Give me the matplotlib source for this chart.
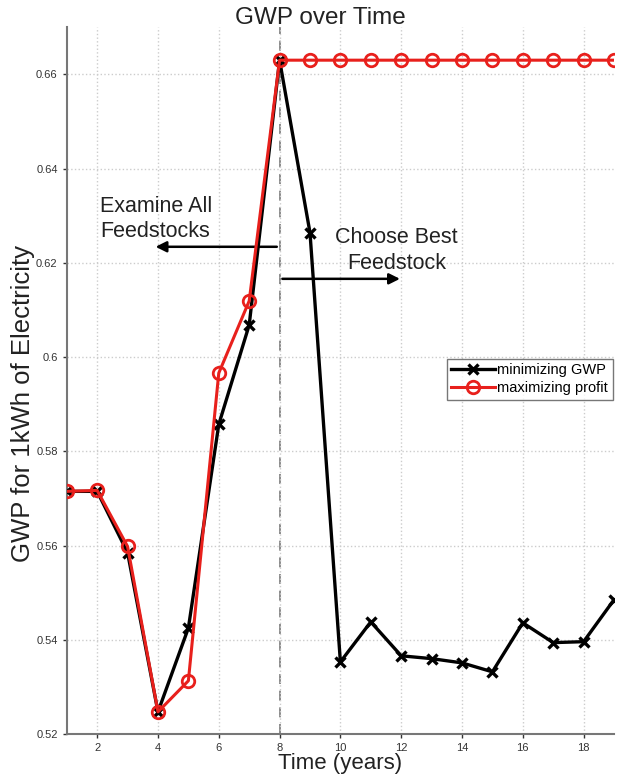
import matplotlib
matplotlib.use("Agg")
import matplotlib.pyplot as plt

# Dados
years = list(range(1, 20))

min_gwp = [0.5715, 0.5715, 0.5585, 0.5247, 0.5425, 0.5857, 0.6068, 0.6630,
           0.6264, 0.5353, 0.5438, 0.5366, 0.5360, 0.5351, 0.5332, 0.5436,
           0.5394, 0.5396, 0.5485]

max_profit = [0.5715, 0.5717, 0.5598, 0.5247, 0.5313, 0.5966, 0.6119, 0.6630,
              0.6630, 0.6630, 0.6630, 0.6630, 0.6630, 0.6630, 0.6630, 0.6630,
              0.6630, 0.6630, 0.6630]

x_ticks = [2, 4, 6, 8, 10, 12, 14, 16, 18]
y_ticks = [0.52, 0.54, 0.56, 0.58, 0.6, 0.62, 0.64, 0.66]
y_tick_labels = ["0.52", "0.54", "0.56", "0.58", "0.6", "0.62", "0.64", "0.66"]

switch_year = 8


def main():

    plt.rcParams['font.family'] = ['Liberation Sans', 'DejaVu Sans']

    fig = plt.figure(figsize=(6.24, 7.77), dpi=100)
    ax = fig.add_axes([0.107, 0.0553, 0.877, 0.9097])

    # Linhas principais
    ax.plot(years, min_gwp, color='black', lw=2.4, marker='x',
            markersize=7, markeredgewidth=2.4, label='minimizing GWP',
            zorder=3)
    ax.plot(years, max_profit, color='#e8201c', lw=2.2, marker='o',
            markersize=9, markerfacecolor='none', markeredgewidth=2,
            label='maximizing profit', zorder=4)

    # Linha vertical tracejada
    ax.axvline(switch_year, color='#777777', lw=1.2, ls=(0, (6, 4)), zorder=1)

    # Setas e textos
    ax.annotate('', xy=(3.83, 0.6234), xytext=(switch_year, 0.6234),
                arrowprops=dict(arrowstyle='-|>', color='black', lw=1.8,
                                mutation_scale=16))
    ax.annotate('', xy=(12.05, 0.6166), xytext=(switch_year, 0.6166),
                arrowprops=dict(arrowstyle='-|>', color='black', lw=1.8,
                                mutation_scale=16))
    ax.text(2.1, 0.6293, "Examine All\nFeedstocks", fontsize=15.5,
            ha='left', va='center', linespacing=1.3, color='#222222')
    ax.text(11.84, 0.6226, "Choose Best\nFeedstock", fontsize=15.5,
            ha='center', va='center', multialignment='center',
            linespacing=1.3, color='#222222')

    ax.set_xlim(1, 19)
    ax.set_ylim(0.52, 0.670)
    ax.set_xticks(x_ticks)
    ax.set_yticks(y_ticks)
    ax.set_yticklabels(y_tick_labels)
    ax.tick_params(labelsize=8, colors='#333333', length=3, width=1)

    ax.grid(True, color='#cccccc', ls=':', lw=1)

    for side in ['top', 'right']:
        ax.spines[side].set_visible(False)
    for side in ['left', 'bottom']:
        ax.spines[side].set_color('#777777')
        ax.spines[side].set_linewidth(1.5)

    fig.text(0.513, 0.977, "GWP over Time", fontsize=17.5,
             ha='center', va='center', color='#222222')
    ax.set_xlabel("Time (years)", fontsize=16, labelpad=0, color='#222222')
    ax.set_ylabel("GWP for 1kWh of Electricity", fontsize=18.5,
                  color='#222222')
    ax.yaxis.set_label_coords(-0.0585, 0.468)

    leg = ax.legend(loc='upper left', bbox_to_anchor=(0.695, 0.531),
                    fontsize=10.5, frameon=True, fancybox=False,
                    borderpad=0.3, handlelength=3.0, handletextpad=0.15,
                    labelspacing=0.3, borderaxespad=0)
    leg.get_frame().set_edgecolor('#555555')
    leg.get_frame().set_linewidth(1)

    fig.savefig("out.png", dpi=100)


if __name__ == "__main__":
    main()
